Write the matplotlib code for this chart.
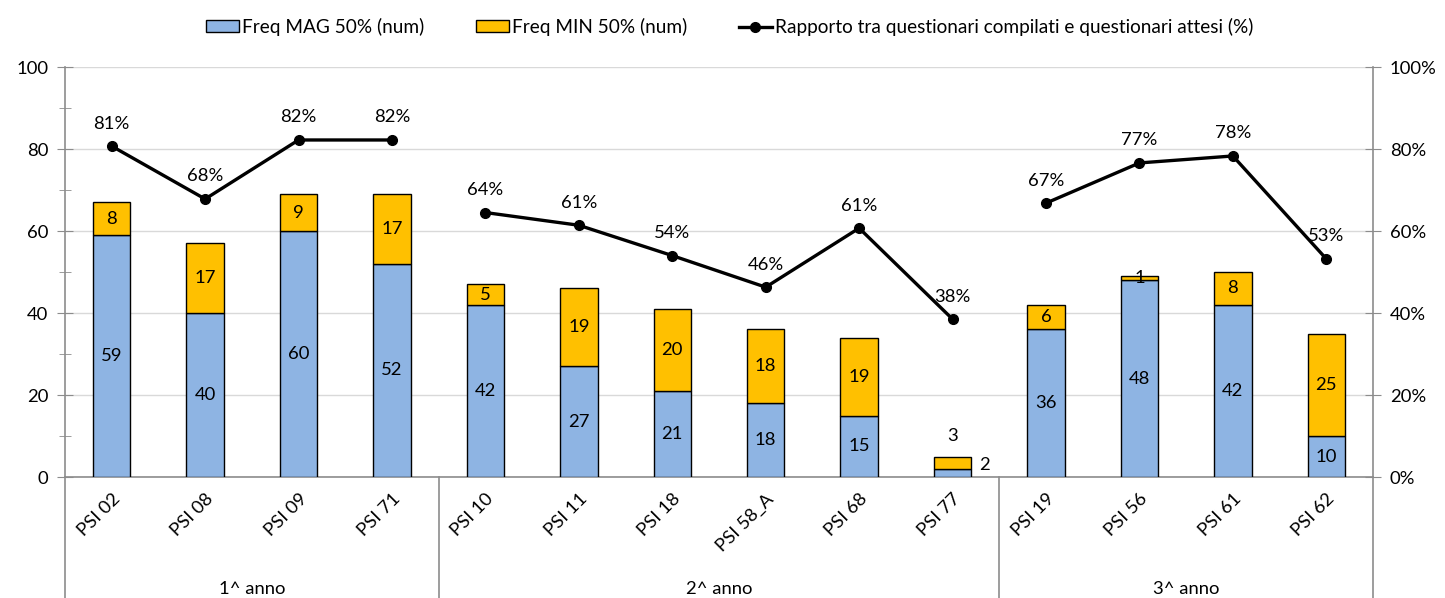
import matplotlib
matplotlib.use("Agg")
import matplotlib.pyplot as plt
from matplotlib.lines import Line2D
from matplotlib.patches import Patch
from matplotlib.ticker import MultipleLocator, FuncFormatter

plt.rcParams['font.family'] = ['Lato', 'DejaVu Sans']

categories = ["PSI 02", "PSI 08", "PSI 09", "PSI 71",
              "PSI 10", "PSI 11", "PSI 18", "PSI 58_A", "PSI 68", "PSI 77",
              "PSI 19", "PSI 56", "PSI 61", "PSI 62"]
groups = ["1^ anno", "2^ anno", "3^ anno"]
group_sizes = [4, 6, 4]
mag = [59, 40, 60, 52, 42, 27, 21, 18, 15, 2, 36, 48, 42, 10]
minv = [8, 17, 9, 17, 5, 19, 20, 18, 19, 3, 6, 1, 8, 25]
ratio = [80.7, 67.8, 82.2, 82.2, 64.5, 61.4, 54.0, 46.3, 60.7, 38.5, 66.8, 76.6, 78.3, 53.2]

BLUE = "#8EB4E3"
YELLOW = "#FFC000"
GRAY = "#8C8C8C"
GRID = "#D9D9D9"
FS = 13.3

fig = plt.figure(figsize=(14.45, 5.98), dpi=100)
ax = fig.add_axes([65/1445, 1-477/598, (1373-65)/1445, (477-67)/598])
x = list(range(len(categories)))
w = 0.4
ax.bar(x, mag, width=w, color=BLUE, edgecolor="black", linewidth=1, zorder=3)
ax.bar(x, minv, width=w, bottom=mag, color=YELLOW, edgecolor="black", linewidth=1, zorder=3)

ax.set_xlim(-0.5, len(categories) - 0.5)
ax.set_ylim(0, 100)
ax.yaxis.set_major_locator(MultipleLocator(20))
ax.yaxis.set_minor_locator(MultipleLocator(10))
ax.tick_params(axis='y', which='major', direction='inout', length=12, color=GRAY, labelsize=FS, pad=6)
ax.tick_params(axis='y', which='minor', direction='inout', length=8, color=GRAY)
ax.grid(axis='y', which='major', color=GRID, linewidth=1, zorder=0)
ax.set_axisbelow(True)
for s in ['top', 'right']:
    ax.spines[s].set_visible(False)
for s in ['left', 'bottom']:
    ax.spines[s].set_color(GRAY)
    ax.spines[s].set_linewidth(1.2)

ax.set_xticks(x)
ax.set_xticklabels(categories, rotation=45, ha='right', rotation_mode='anchor', fontsize=FS)
ax.tick_params(axis='x', length=0, pad=10)

# bar labels
for i in x:
    if mag[i] + minv[i] < 10:
        ax.text(i + w/2 + 0.08, mag[i] + 1, str(mag[i]), ha='left', va='center', fontsize=FS, zorder=5)
        ax.text(i, mag[i] + minv[i] + 5, str(minv[i]), ha='center', va='center', fontsize=FS, zorder=5)
    else:
        ax.text(i, mag[i] / 2, str(mag[i]), ha='center', va='center', fontsize=FS, zorder=5)
        ax.text(i, mag[i] + minv[i] / 2, str(minv[i]), ha='center', va='center', fontsize=FS, zorder=5)

# group separators and labels
bounds = [0]
for g in group_sizes:
    bounds.append(bounds[-1] + g)
for b in bounds:
    ax.add_line(Line2D([b - 0.5, b - 0.5], [0, -0.3], transform=ax.get_xaxis_transform(),
                       color=GRAY, linewidth=1.2, clip_on=False))
for gi, g in enumerate(groups):
    c = (bounds[gi] + bounds[gi + 1] - 1) / 2
    ax.text(c, -0.272, g, transform=ax.get_xaxis_transform(), ha='center', va='center', fontsize=FS)

# secondary axis
ax2 = ax.twinx()
ax2.set_ylim(0, 100)
ax2.yaxis.set_major_locator(MultipleLocator(20))
ax2.yaxis.set_major_formatter(FuncFormatter(lambda v, p: f"{v:.0f}%"))
ax2.tick_params(axis='y', which='major', direction='inout', length=12, color=GRAY, labelsize=FS, pad=6)
for s in ['top', 'left', 'bottom']:
    ax2.spines[s].set_visible(False)
ax2.spines['right'].set_color(GRAY)
ax2.spines['right'].set_linewidth(1.2)

for gi in range(len(groups)):
    xs = x[bounds[gi]:bounds[gi + 1]]
    ys = ratio[bounds[gi]:bounds[gi + 1]]
    ax2.plot(xs, ys, color='black', linewidth=2.4, marker='o', markersize=7, zorder=4)
for i in x:
    ax2.text(i, ratio[i] + 5.5, f"{round(ratio[i]):.0f}%", ha='center', va='center', fontsize=FS)

handles = [Patch(facecolor=BLUE, edgecolor='black', linewidth=1),
           Patch(facecolor=YELLOW, edgecolor='black', linewidth=1),
           Line2D([0], [0], color='black', linewidth=2.4, marker='o', markersize=7)]
labels = ["Freq MAG 50% (num)", "Freq MIN 50% (num)",
          "Rapporto tra questionari compilati e questionari attesi (%)"]
fig.legend(handles, labels, loc='center', bbox_to_anchor=(0.505, 0.955), ncol=3, frameon=False,
           fontsize=13.7, handlelength=1.75, handleheight=0.55, handletextpad=0.15,
           columnspacing=2.7)

fig.savefig("out.png", dpi=100)
